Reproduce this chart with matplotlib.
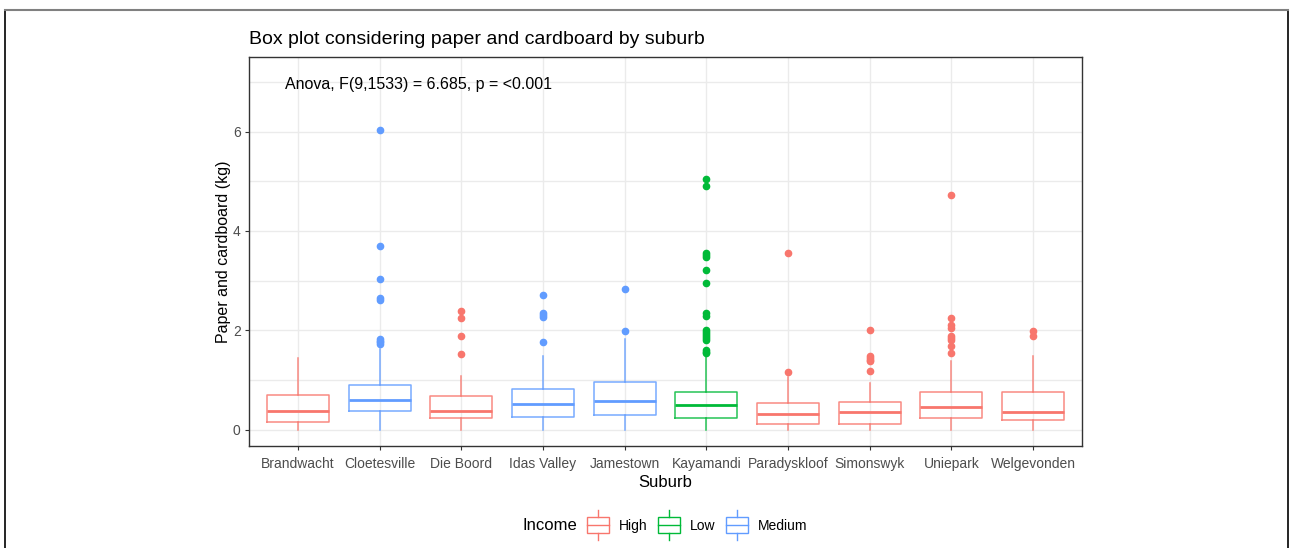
import matplotlib.pyplot as plt
from matplotlib.legend_handler import HandlerBase
from matplotlib.lines import Line2D
from matplotlib.patches import Rectangle

plt.rcParams['font.family'] = ['Liberation Sans', 'DejaVu Sans']

suburbs = ['Brandwacht', 'Cloetesville', 'Die Boord', 'Idas Valley', 'Jamestown',
           'Kayamandi', 'Paradyskloof', 'Simonswyk', 'Uniepark', 'Welgevonden']
income = ['High', 'Medium', 'High', 'Medium', 'Medium',
          'Low', 'High', 'High', 'High', 'High']
whislo = [0.0, 0.0, 0.0, 0.0, 0.0, 0.0, 0.0, 0.0, 0.0, 0.0]
q1 = [0.15, 0.37, 0.24, 0.26, 0.30, 0.24, 0.12, 0.12, 0.24, 0.19]
med = [0.37, 0.59, 0.37, 0.52, 0.57, 0.49, 0.32, 0.345, 0.46, 0.345]
q3 = [0.69, 0.90, 0.67, 0.82, 0.96, 0.75, 0.53, 0.55, 0.75, 0.75]
whishi = [1.45, 1.63, 1.07, 1.49, 1.83, 1.53, 1.05, 0.94, 1.38, 1.48]
outliers = [
    [],
    [6.03, 3.70, 3.04, 2.64, 2.61, 1.83, 1.79, 1.76, 1.73],
    [2.38, 2.24, 1.89, 1.53],
    [2.70, 2.34, 2.31, 2.27, 1.77],
    [2.83, 1.98],
    [5.04, 4.90, 3.56, 3.52, 3.47, 3.21, 2.96, 2.35, 2.28, 2.01, 1.97,
     1.93, 1.89, 1.85, 1.80, 1.61, 1.57, 1.55],
    [3.56, 1.15],
    [2.01, 1.49, 1.45, 1.41, 1.38, 1.18],
    [4.72, 2.25, 2.11, 2.05, 1.88, 1.84, 1.81, 1.68, 1.54],
    [1.99, 1.89],
]
levels = ['High', 'Low', 'Medium']
colors = {'High': '#F8766D', 'Low': '#00BA38', 'Medium': '#619CFF'}

fig = plt.figure(figsize=(12.9, 5.48), dpi=100)
ax = fig.add_axes([249/1290, 1-446/548, (1082-249)/1290, (446-57)/548])

for i, s in enumerate(suburbs):
    c = colors[income[i]]
    st = dict(label=s, whislo=whislo[i], q1=q1[i], med=med[i], q3=q3[i],
              whishi=whishi[i], fliers=outliers[i])
    ax.bxp([st], positions=[i + 1], widths=0.76, showcaps=False,
           patch_artist=False, manage_ticks=False,
           boxprops=dict(color=c, lw=1.1, alpha=0.85),
           whiskerprops=dict(color=c, lw=1.1, alpha=0.85),
           medianprops=dict(color=c, lw=2.0),
           flierprops=dict(marker='o', markersize=4.5, markerfacecolor=c,
                           markeredgecolor=c))

ax.set_xlim(0.4, 10.6)
ax.set_ylim(-0.33, 7.5)
ax.set_xticks(range(1, 11))
ax.set_xticklabels(suburbs)
ax.set_yticks([0, 2, 4, 6])
ax.set_yticks([1, 3, 5, 7], minor=True)
ax.grid(True, which='both', color='#EBEBEB', lw=1.0)
ax.tick_params(axis='y', which='minor', length=0)
ax.tick_params(which='major', length=3, color='#333333', labelcolor='#4D4D4D',
               labelsize=10)
ax.tick_params(axis='x', pad=5)
ax.tick_params(axis='y', pad=3)
ax.set_axisbelow(True)
for sp in ax.spines.values():
    sp.set_color('#333333')
    sp.set_linewidth(1.0)

ax.set_xlabel('Suburb', fontsize=12, labelpad=3)
ax.set_ylabel('Paper and cardboard (kg)', fontsize=11.5, labelpad=1)
ax.set_title('Box plot considering paper and cardboard by suburb',
             fontsize=14, loc='left', pad=9)
fig.text(285/1290, 1-84/548, 'Anova, F(9,1533) = 6.685, p = <0.001',
         fontsize=11.5, va='center', ha='left')


class BoxHandler(HandlerBase):
    def create_artists(self, legend, orig_handle, xd, yd, width, height,
                       fontsize, trans):
        c = orig_handle.get_color()
        x0, w = -xd, width
        y0, h = -yd + height * 0.5 - 6, 12
        box = Rectangle((x0, y0), w, h, fill=False, ec=c, lw=1.0,
                        transform=trans)
        midline = Line2D([x0, x0 + w], [y0 + h/2, y0 + h/2], color=c,
                         lw=1.0, transform=trans)
        top = Line2D([x0 + w/2] * 2, [y0 + h, y0 + h + 5], color=c, lw=1.0,
                     transform=trans)
        bot = Line2D([x0 + w/2] * 2, [y0 - 5, y0], color=c, lw=1.0,
                     transform=trans)
        return [box, midline, top, bot]


handles = [Line2D([], [], color=colors[l]) for l in levels]
fig.text(523/1290, 1-526/548, 'Income', fontsize=12, va='center', ha='left')
fig.legend(handles, levels, handler_map={Line2D: BoxHandler()},
           loc='center left', bbox_to_anchor=(587/1290, 1-526/548), ncol=3,
           frameon=False, fontsize=10, handlelength=1.6, handletextpad=0.72,
           columnspacing=0.72, borderpad=0, borderaxespad=0)

# outer frame of the image
fig.add_artist(Line2D([4.5/1290, 4.5/1290], [0, 1-9.5/548], color='black',
                      lw=1.2, transform=fig.transFigure))
fig.add_artist(Line2D([1287.5/1290, 1287.5/1290], [0, 1-9.5/548],
                      color='black', lw=1.2, transform=fig.transFigure))
fig.add_artist(Line2D([4.5/1290, 1287.5/1290], [1-9.5/548, 1-9.5/548],
                      color='#808080', lw=1.5, transform=fig.transFigure))

fig.savefig('out.png', dpi=100)
